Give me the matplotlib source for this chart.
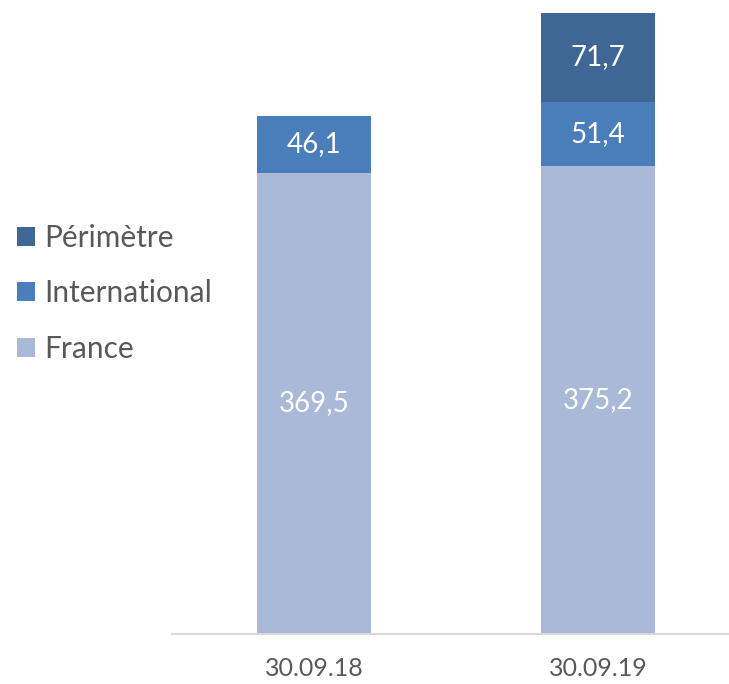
import matplotlib
matplotlib.use("Agg")
import matplotlib.pyplot as plt
import numpy as np

categories = ["30.09.18", "30.09.19"]
france = [369.5, 375.2]
international = [46.1, 51.4]
perimetre = [0.0, 71.7]
series_names = ["France", "International", "Périmètre"]
colors = ["#A9B9D7", "#4A7EBB", "#3E6796"]

plt.rcParams['font.family'] = ['Lato', 'DejaVu Sans']

W, H = 729, 684
fig = plt.figure(figsize=(W / 100, H / 100), dpi=100)
ax = fig.add_axes([172 / W, (H - 633.5) / H, 568 / W, 633.5 / H])

x = np.arange(len(categories))
bottom = np.zeros(len(categories))
handles = []
for name, vals, col in zip(series_names, [france, international, perimetre], colors):
    vals = np.array(vals)
    bars = ax.bar(x, vals, width=0.4, bottom=bottom, color=col, label=name,
                  edgecolor='none', zorder=2)
    handles.append(bars)
    for xi, v, b in zip(x, vals, bottom):
        if v > 0:
            ax.text(xi, b + v / 2, f"{v:.1f}".replace('.', ','), ha='center', va='center',
                    color='white', fontsize=20)
    bottom = bottom + vals

ax.set_xlim(-0.5, 1.5)
ax.set_ylim(0, 633.5 / 1.246)
for s in ['top', 'right', 'left']:
    ax.spines[s].set_visible(False)
ax.spines['bottom'].set_color('#D9D9D9')
ax.spines['bottom'].set_linewidth(1.5)
ax.set_yticks([])
ax.set_xticks(x)
ax.set_xticklabels(categories, fontsize=18, color='#595959')
ax.tick_params(axis='x', length=0, pad=17)

leg = fig.legend(handles[::-1], series_names[::-1], loc='upper left',
                 bbox_to_anchor=(17 / W, 1 - 224 / H), frameon=False,
                 fontsize=21.5, labelcolor='#595959', handlelength=0.6,
                 handleheight=0.6, handletextpad=0.3, labelspacing=0.92,
                 borderpad=0, borderaxespad=0)

fig.savefig("out.png", dpi=100)
